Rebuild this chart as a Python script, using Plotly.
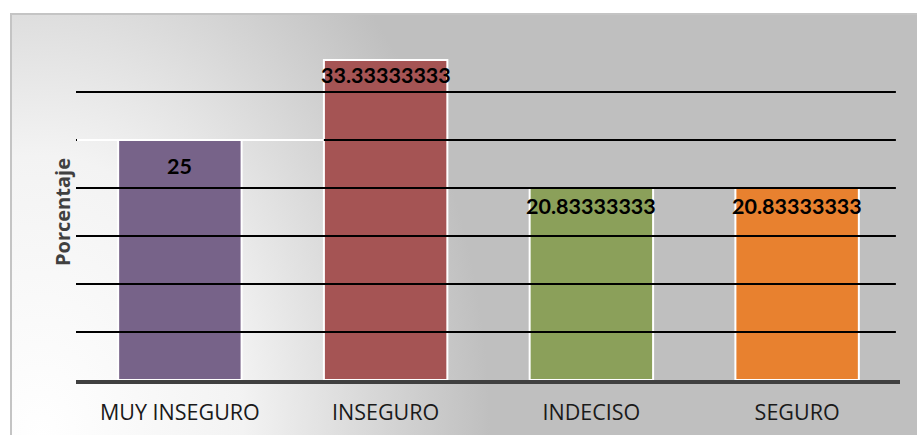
import plotly.graph_objects as go
import urllib.parse

# ---------------- data ----------------
categories = ["MUY INSEGURO", "INSEGURO", "INDECISO", "SEGURO"]
# bar heights as drawn in the picture (the last two bars reach the 20 gridline)
bar_heights = [25, 33.33333333, 20, 20]
# data labels as printed on the bars
value_labels = ["25", "33.33333333", "20.83333333", "20.83333333"]
y_ticks = [5, 10, 15, 20, 25, 30]
y_max = 35
axis_title = "Porcentaje"

# ---------------- style ----------------
bar_colors = ["#776389", "#A55454", "#8BA05A", "#E8812F"]
label_offsets = [26, 15, 18, 18]   # px below bar top (label centre)
W, H = 917, 435
ML, MR, MT, MB = 76, 17, 44, 55
plot_w = W - ML - MR
plot_h = H - MT - MB
bar_width = 0.6

# background gradient (chart area) as an SVG image
bx0, by0 = 10, 13
bw, bh = W - bx0 + 4, H - by0 + 4
svg = f'''<svg xmlns="http://www.w3.org/2000/svg" width="{bw}" height="{bh}" viewBox="0 0 {bw} {bh}">
<defs><radialGradient id="g" gradientUnits="userSpaceOnUse" cx="30" cy="{bh}" r="450"
 gradientTransform="matrix(1 0 0 1.4 0 {-0.4*bh})">
<stop offset="0" stop-color="#ffffff"/><stop offset="0.45" stop-color="#f3f3f3"/>
<stop offset="1" stop-color="#bfbfbf"/></radialGradient></defs>
<rect x="0" y="0" width="{bw}" height="{bh}" fill="url(#g)"/>
<path d="M1 {bh} L1 1 L{bw} 1" fill="none" stroke="#c4c4c4" stroke-width="2"/>
</svg>'''
src = "data:image/svg+xml;charset=utf-8," + urllib.parse.quote(svg)

fig = go.Figure()
fig.add_trace(go.Bar(
    x=categories, y=bar_heights,
    width=bar_width,
    marker=dict(color=bar_colors, line=dict(color="white", width=2)),
    customdata=value_labels,
    hovertemplate="%{x}: %{customdata}<extra></extra>",
))

# gridlines drawn above the bars (as in the reference)
shapes = []
for t in y_ticks:
    shapes.append(dict(type="line", xref="paper", yref="y", x0=0, x1=0.995, y0=t, y1=t,
                       line=dict(color="black", width=2), layer="above"))
# white segment on the 25 gridline (left part)
shapes.append(dict(type="line", xref="x", yref="y", x0=-0.5, x1=1 - bar_width / 2,
                   y0=bar_heights[0], y1=bar_heights[0], line=dict(color="white", width=2),
                   layer="above"))

annotations = []
for c, v, lab, off in zip(categories, bar_heights, value_labels, label_offsets):
    annotations.append(dict(x=c, y=v, xref="x", yref="y", text=f"<b>{lab}</b>",
                            showarrow=False, yanchor="middle", xanchor="center", yshift=-off,
                            font=dict(family="Lato", size=21.5, color="black")))
annotations.append(dict(xref="paper", yref="paper", x=(62 - ML) / plot_w, y=(380 - 212) / plot_h,
                        text=f"<b>{axis_title}</b>", textangle=-90, showarrow=False,
                        xanchor="center", yanchor="middle",
                        font=dict(family="Open Sans", size=20, color="#404040")))

fig.update_layout(
    width=W, height=H,
    margin=dict(l=ML, r=MR, t=MT, b=MB),
    paper_bgcolor="white",
    plot_bgcolor="rgba(0,0,0,0)",
    showlegend=False,
    bargap=0.4,
    shapes=shapes,
    annotations=annotations,
    images=[dict(source=src, xref="paper", yref="paper",
                 x=(bx0 - ML) / plot_w, y=(H - MB - by0) / plot_h,
                 sizex=bw / plot_w, sizey=bh / plot_h,
                 xanchor="left", yanchor="top", sizing="stretch", layer="below")],
    xaxis=dict(showgrid=False, showline=True, linecolor="#404040", linewidth=4,
               ticks="", ticklabelstandoff=10, automargin=False,
               tickfont=dict(family="Open Sans", size=21.5, color="#1a1a1a"),
               fixedrange=True),
    yaxis=dict(range=[0, y_max], showgrid=False, zeroline=False, showticklabels=False,
               ticks="", fixedrange=True, automargin=False),
)

fig.write_html("out.html", config={"displayModeBar": False},
               post_script="document.body.style.margin='0';document.body.style.padding='0';")
